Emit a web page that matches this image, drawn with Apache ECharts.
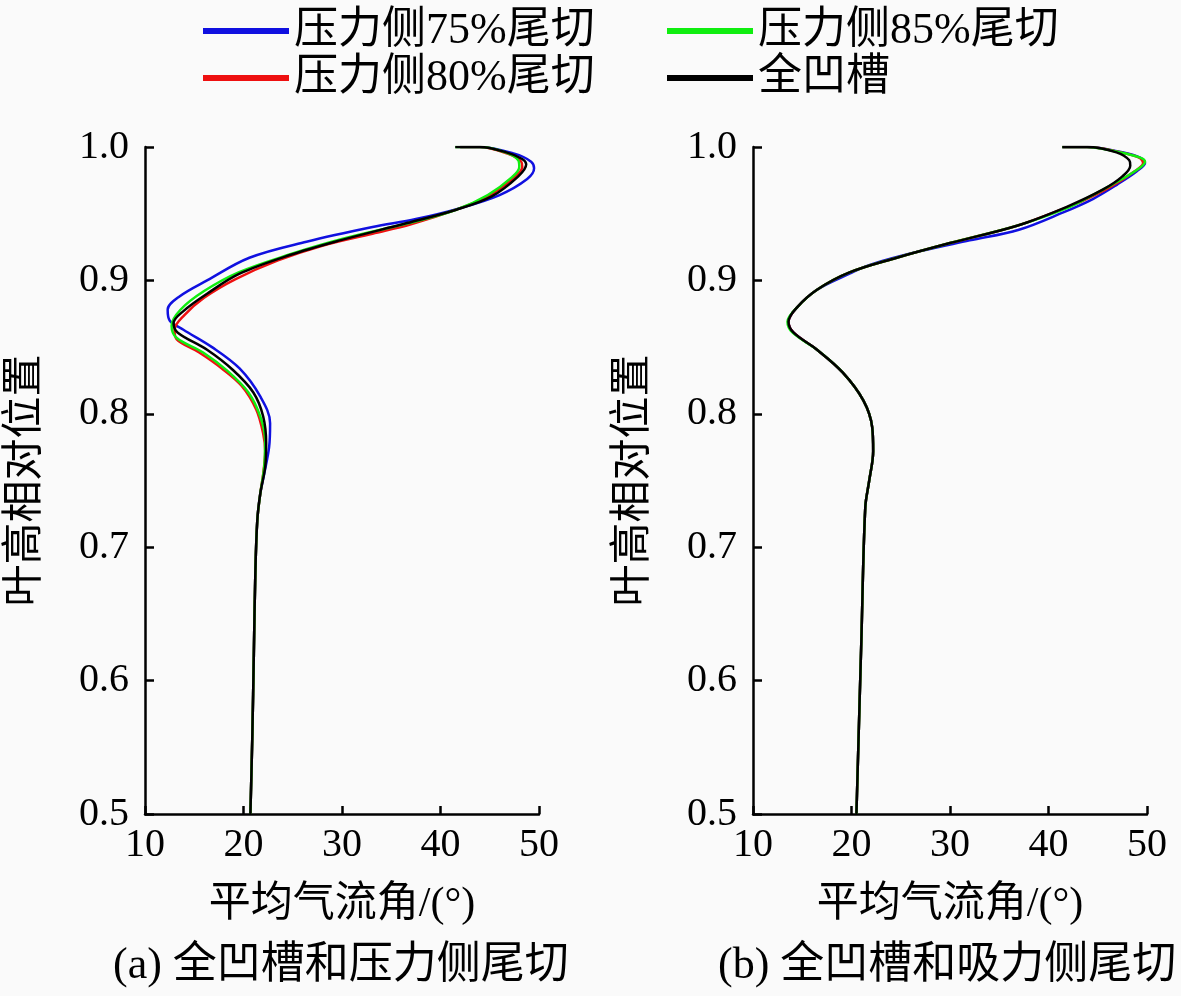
<!DOCTYPE html>
<html>
<head>
<meta charset="utf-8">
<script src="https://cdn.jsdelivr.net/npm/echarts@6/dist/echarts.min.js"></script>
<style>
html,body{margin:0;padding:0;background:#fafafa;}
#chart{width:1181px;height:996px;}
</style>
</head>
<body>
<div id="chart"></div>
<script>
// Series names (legend)
const seriesNames = ['压力侧75%尾切', '压力侧80%尾切', '压力侧85%尾切', '全凹槽'];
const xTicks = [10, 20, 30, 40, 50];
const yTicks = [0.5, 0.6, 0.7, 0.8, 0.9, 1.0];
const xAxisTitle = '平均气流角/(°)';
const yAxisTitle = '叶高相对位置';
const captionA = '(a) 全凹槽和压力侧尾切';
const captionB = '(b) 全凹槽和吸力侧尾切';

// (a) left panel: [angle, relative height]
const leftBlue = [[42,1.0],[44,1.0],[47.5,0.995],[49.2,0.989],[49.5,0.984],[48.8,0.976],[46,0.964],[41.9,0.954],[37.5,0.946],[33.1,0.940],[26.4,0.929],[20.6,0.917],[16.3,0.900],[13.5,0.888],[12.3,0.878],[12.5,0.870],[13.9,0.863],[16.8,0.850],[19.6,0.834],[21.7,0.813],[22.7,0.793],[22.6,0.775],[22.1,0.755],[21.7,0.74],[21.4,0.72],[21.2,0.68],[21.05,0.62],[20.9,0.56],[20.7,0.5]];
const leftRed = [[42,1.0],[44,1.0],[46.8,0.995],[48.2,0.989],[48.3,0.985],[47.3,0.976],[44.8,0.963],[41.6,0.953],[37,0.942],[33.1,0.935],[28,0.926],[23.5,0.915],[19.2,0.901],[16,0.887],[14,0.874],[13.0,0.863],[13.2,0.856],[15.5,0.846],[17.8,0.834],[19.8,0.821],[21.3,0.803],[22.0,0.785],[22.2,0.772],[22.0,0.755],[21.7,0.74],[21.4,0.72],[21.2,0.68],[21.05,0.62],[20.9,0.56],[20.7,0.5]];
const leftGreen = [[41.5,1.0],[44,1.0],[46.6,0.996],[47.9,0.990],[48.0,0.985],[47.2,0.977],[44.8,0.964],[41.6,0.953],[36.8,0.943],[30,0.931],[24.5,0.919],[19.5,0.906],[16.0,0.892],[13.6,0.878],[12.7,0.866],[13.2,0.857],[15.9,0.846],[18.4,0.832],[20.5,0.816],[21.7,0.798],[22.2,0.78],[22.1,0.76],[21.7,0.74],[21.4,0.72],[21.2,0.68],[21.05,0.62],[20.9,0.56],[20.7,0.5]];
const leftBlack = [[41.5,1.0],[44,1.0],[46.7,0.996],[48.3,0.991],[48.7,0.987],[47.9,0.978],[45.2,0.963],[41.6,0.953],[36.6,0.943],[29.8,0.930],[24.7,0.919],[19.6,0.905],[16.3,0.890],[13.9,0.877],[12.9,0.868],[13.3,0.861],[16.3,0.848],[18.9,0.833],[21.0,0.816],[22.0,0.798],[22.3,0.778],[22.2,0.76],[21.7,0.74],[21.4,0.72],[21.2,0.68],[21.05,0.62],[20.9,0.56],[20.7,0.5]];

// (b) right panel
const rightBlue = [[41.4,1.0],[44,1.0],[47.5,0.996],[49.3,0.992],[49.8,0.988],[49,0.982],[47,0.972],[44.5,0.961],[41.5,0.951],[37,0.938],[32,0.930],[27,0.922],[22,0.912],[19.8,0.905],[16.5,0.893],[14.5,0.880],[13.6,0.869],[14.1,0.861],[16.5,0.848],[19.1,0.831],[21.2,0.810],[22.1,0.79],[22.2,0.772],[21.8,0.75],[21.4,0.73],[21.0,0.63],[20.5,0.5]];
const rightRed = [[41.4,1.0],[44,1.0],[47.3,0.996],[49.2,0.992],[49.6,0.988],[48.6,0.981],[46.3,0.970],[43.6,0.960],[41.6,0.954],[36.8,0.941],[30,0.928],[24.6,0.917],[19.8,0.906],[16.5,0.893],[14.5,0.880],[13.6,0.869],[14.1,0.861],[16.5,0.848],[19.1,0.831],[21.2,0.810],[22.1,0.79],[22.2,0.772],[21.8,0.75],[21.4,0.73],[21.0,0.63],[20.5,0.5]];
const rightGreen = [[41.4,1.0],[43.9,1.0],[47.2,0.996],[49.3,0.992],[49.8,0.989],[48.8,0.982],[46.5,0.972],[44,0.962],[41.8,0.954],[36.8,0.941],[30,0.928],[24.6,0.917],[19.8,0.906],[16.5,0.893],[14.5,0.880],[13.5,0.869],[14.0,0.861],[16.5,0.848],[19.1,0.831],[21.2,0.810],[22.1,0.79],[22.2,0.772],[21.8,0.75],[21.4,0.73],[21.0,0.63],[20.5,0.5]];
const rightBlack = [[41.4,1.0],[43.9,1.0],[46.9,0.996],[48.2,0.990],[48.3,0.986],[47.5,0.978],[45.5,0.968],[41.8,0.955],[36.8,0.941],[30,0.928],[24.6,0.917],[19.8,0.906],[16.5,0.893],[14.5,0.880],[13.6,0.869],[14.1,0.861],[16.5,0.848],[19.1,0.831],[21.2,0.810],[22.1,0.79],[22.2,0.772],[21.8,0.75],[21.4,0.73],[21.0,0.63],[20.5,0.5]];

const colors = ['#1010e0', '#ee1010', '#10ee10', '#000000'];
const serifFont = '"Liberation Serif", "Noto Sans CJK SC", serif';

const chart = echarts.init(document.getElementById('chart'));

function xAxisDef(gridIndex) {
  return {
    type: 'value', gridIndex: gridIndex, min: 10, max: 50, interval: 10,
    name: xAxisTitle, nameLocation: 'middle', nameGap: 70,
    nameTextStyle: {fontFamily: serifFont, fontSize: 42, color: '#000'},
    axisLine: {show: true, lineStyle: {color: '#000', width: 2.5}},
    axisTick: {show: true, inside: true, length: 8, lineStyle: {color: '#000', width: 2.5}},
    axisLabel: {fontFamily: serifFont, fontSize: 40, color: '#000', margin: 11},
    splitLine: {show: false}
  };
}
function yAxisDef(gridIndex) {
  return {
    type: 'value', gridIndex: gridIndex, min: 0.5, max: 1.0, interval: 0.1,
    name: yAxisTitle, nameLocation: 'middle', nameGap: 98,
    nameTextStyle: {fontFamily: serifFont, fontSize: 42, color: '#000'},
    axisLine: {show: true, lineStyle: {color: '#000', width: 2.5}},
    axisTick: {show: true, inside: true, length: 9, lineStyle: {color: '#000', width: 2.5}},
    axisLabel: {fontFamily: serifFont, fontSize: 40, color: '#000', margin: 16,
      formatter: function (v) { return v.toFixed(1); }},
    splitLine: {show: false}
  };
}
function lineSeries(name, data, idx, color) {
  return {
    name: name, type: 'line', data: data, xAxisIndex: idx, yAxisIndex: idx,
    showSymbol: false, smooth: 0.35, animation: false,
    itemStyle: {color: color},
    lineStyle: {color: color, width: 2.5}
  };
}

const legendText = {fontFamily: serifFont, fontSize: 44, color: '#000', lineHeight: 44, padding: [0, 0, 0, 0]};

const option = {
  backgroundColor: '#fafafa',
  animation: false,
  legend: [
    {left: 198, top: 4, orient: 'vertical', itemWidth: 86, itemHeight: 6, itemGap: 3, icon: 'rect',
      data: [seriesNames[0], seriesNames[1]], textStyle: legendText},
    {left: 662, top: 4, orient: 'vertical', itemWidth: 86, itemHeight: 6, itemGap: 3, icon: 'rect',
      data: [seriesNames[2], seriesNames[3]], textStyle: legendText}
  ],
  grid: [
    {left: 145, top: 147, width: 394, height: 667},
    {left: 753, top: 147, width: 394, height: 667}
  ],
  xAxis: [xAxisDef(0), xAxisDef(1)],
  yAxis: [yAxisDef(0), yAxisDef(1)],
  graphic: [
    {type: 'text', left: 113, top: 944, style: {text: captionA, font: '44px ' + serifFont, fill: '#000'}},
    {type: 'text', left: 718, top: 944, style: {text: captionB, font: '44px ' + serifFont, fill: '#000'}}
  ],
  series: [
    lineSeries(seriesNames[0], leftBlue, 0, colors[0]),
    lineSeries(seriesNames[1], leftRed, 0, colors[1]),
    lineSeries(seriesNames[2], leftGreen, 0, colors[2]),
    lineSeries(seriesNames[3], leftBlack, 0, colors[3]),
    lineSeries(seriesNames[0], rightBlue, 1, colors[0]),
    lineSeries(seriesNames[1], rightRed, 1, colors[1]),
    lineSeries(seriesNames[2], rightGreen, 1, colors[2]),
    lineSeries(seriesNames[3], rightBlack, 1, colors[3])
  ]
};
chart.setOption(option);
</script>
</body>
</html>
